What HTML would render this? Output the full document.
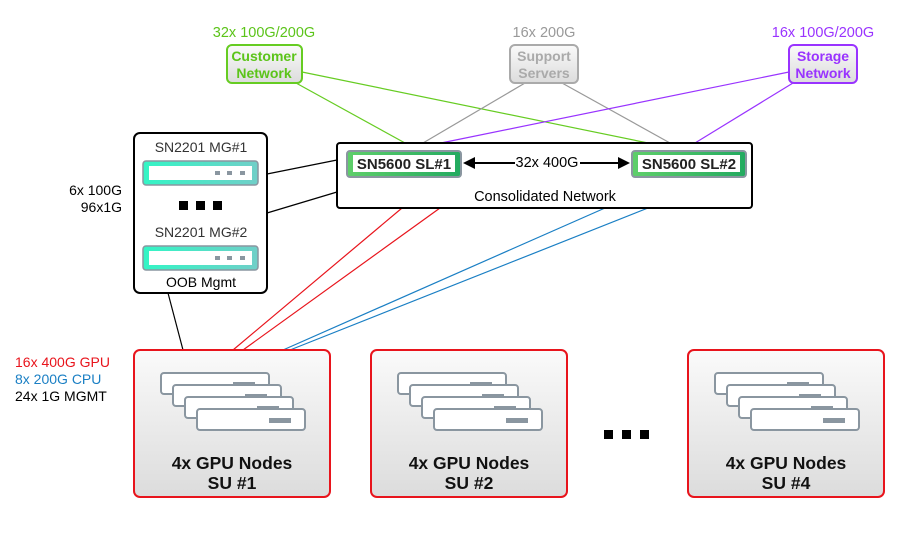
<!DOCTYPE html>
<html><head><meta charset="utf-8"><style>
body{margin:0;background:#fff;}
text{font-family:"Liberation Sans",sans-serif;}
</style></head><body>
<svg width="914" height="530" viewBox="0 0 914 530" xmlns="http://www.w3.org/2000/svg">
<defs>
<linearGradient id="g" x1="0" y1="0" x2="0" y2="1"><stop offset="0" stop-color="#fafafa"/><stop offset="1" stop-color="#dcdcdc"/></linearGradient>
<linearGradient id="sw" x1="0" y1="0" x2="1" y2="0"><stop offset="0" stop-color="#5fcf6a"/><stop offset="1" stop-color="#22aa60"/></linearGradient>
<linearGradient id="mg" x1="0" y1="0" x2="1" y2="0"><stop offset="0" stop-color="#33f5c5"/><stop offset="1" stop-color="#70cfc8"/></linearGradient>
<g id="srv"><rect x="0" y="0" width="108" height="21" rx="3" fill="#fff" stroke="#8a96a0" stroke-width="2"/><rect x="72" y="9" width="22" height="5" fill="#8a96a0"/></g>
<g id="stack"><use href="#srv" x="0" y="0"/><use href="#srv" x="12" y="12"/><use href="#srv" x="24" y="24"/><use href="#srv" x="36" y="36"/></g>
</defs>
<g stroke-width="1.2" fill="none">
<line x1="302" y1="72" x2="648" y2="143" stroke="#66cc22"/>
<line x1="296" y1="83" x2="405" y2="143" stroke="#66cc22"/>
<line x1="525" y1="83" x2="423" y2="143" stroke="#999"/>
<line x1="562" y1="83" x2="670" y2="143" stroke="#999"/>
<line x1="789" y1="72" x2="441" y2="143" stroke="#9933ff"/>
<line x1="793" y1="83" x2="695" y2="143" stroke="#9933ff"/>
<line x1="402" y1="208" x2="233" y2="350" stroke="#e8141c"/>
<line x1="440" y1="208" x2="243" y2="350" stroke="#e8141c"/>
<line x1="605" y1="208" x2="283" y2="350" stroke="#1a7fc4"/>
<line x1="648" y1="208" x2="290" y2="350" stroke="#1a7fc4"/>
<line x1="267" y1="174" x2="337" y2="160" stroke="#000"/>
<line x1="267" y1="213" x2="337" y2="192" stroke="#000"/>
<line x1="168" y1="293" x2="183" y2="350" stroke="#000"/>
</g>
<text x="264" y="37" font-size="14.5" fill="#5cc41a" text-anchor="middle">32x 100G/200G</text>
<rect x="227" y="45" width="75" height="38" rx="5" fill="url(#g)" stroke="#66cc22" stroke-width="2"/>
<text x="264" y="61" font-size="14" font-weight="bold" fill="#5cc41a" text-anchor="middle">Customer</text>
<text x="264" y="78" font-size="14" font-weight="bold" fill="#5cc41a" text-anchor="middle">Network</text>
<text x="544" y="37" font-size="14.5" fill="#999" text-anchor="middle">16x 200G</text>
<rect x="510" y="45" width="68" height="38" rx="5" fill="url(#g)" stroke="#aaa" stroke-width="2"/>
<text x="544" y="61" font-size="14" font-weight="bold" fill="#aaa" text-anchor="middle">Support</text>
<text x="544" y="78" font-size="14" font-weight="bold" fill="#aaa" text-anchor="middle">Servers</text>
<text x="823" y="37" font-size="14.5" fill="#9933ff" text-anchor="middle">16x 100G/200G</text>
<rect x="789" y="45" width="68" height="38" rx="5" fill="url(#g)" stroke="#9933ff" stroke-width="2"/>
<text x="823" y="61" font-size="14" font-weight="bold" fill="#9933ff" text-anchor="middle">Storage</text>
<text x="823" y="78" font-size="14" font-weight="bold" fill="#9933ff" text-anchor="middle">Network</text>
<rect x="337" y="143" width="415" height="65" rx="3" fill="#fff" stroke="#000" stroke-width="2"/>
<rect x="347" y="151" width="114" height="26" rx="3" fill="url(#sw)" stroke="#8a96a0" stroke-width="2"/>
<rect x="353" y="155" width="102" height="17" fill="#fff"/>
<text x="404" y="169" font-size="15" font-weight="bold" fill="#222" text-anchor="middle">SN5600 SL#1</text>
<rect x="632" y="151" width="114" height="26" rx="3" fill="url(#sw)" stroke="#8a96a0" stroke-width="2"/>
<rect x="638" y="155" width="102" height="17" fill="#fff"/>
<text x="689" y="169" font-size="15" font-weight="bold" fill="#222" text-anchor="middle">SN5600 SL#2</text>
<line x1="470" y1="163" x2="515" y2="163" stroke="#000" stroke-width="2"/>
<line x1="580" y1="163" x2="622" y2="163" stroke="#000" stroke-width="2"/>
<polygon points="463,163 475,157 475,169" fill="#000"/>
<polygon points="630,163 618,157 618,169" fill="#000"/>
<text x="547" y="167" font-size="14.5" fill="#000" text-anchor="middle">32x 400G</text>
<text x="545" y="201" font-size="14.5" fill="#000" text-anchor="middle">Consolidated Network</text>
<rect x="134" y="133" width="133" height="160" rx="6" fill="#fff" stroke="#000" stroke-width="2"/>
<text x="201" y="152" font-size="14" fill="#333" text-anchor="middle">SN2201 MG#1</text>
<rect x="143" y="161" width="115" height="24" rx="3" fill="url(#mg)" stroke="#8a96a0" stroke-width="1.5"/>
<rect x="149" y="166" width="103" height="14" fill="#fff"/>
<rect x="215" y="171" width="5" height="4" fill="#8a96a0"/><rect x="227" y="171" width="5" height="4" fill="#8a96a0"/><rect x="240" y="171" width="5" height="4" fill="#8a96a0"/>
<rect x="179" y="201" width="9" height="9" fill="#000"/><rect x="196" y="201" width="9" height="9" fill="#000"/><rect x="213" y="201" width="9" height="9" fill="#000"/>
<text x="201" y="237" font-size="14" fill="#333" text-anchor="middle">SN2201 MG#2</text>
<rect x="143" y="246" width="115" height="24" rx="3" fill="url(#mg)" stroke="#8a96a0" stroke-width="1.5"/>
<rect x="149" y="251" width="103" height="14" fill="#fff"/>
<rect x="215" y="256" width="5" height="4" fill="#8a96a0"/><rect x="227" y="256" width="5" height="4" fill="#8a96a0"/><rect x="240" y="256" width="5" height="4" fill="#8a96a0"/>
<text x="201" y="287" font-size="14" fill="#000" text-anchor="middle">OOB Mgmt</text>
<text x="122" y="195" font-size="14" fill="#000" text-anchor="end">6x 100G</text>
<text x="122" y="212" font-size="14" fill="#000" text-anchor="end">96x1G</text>
<text x="15" y="367" font-size="14" fill="#e8141c">16x 400G GPU</text>
<text x="15" y="384" font-size="14" fill="#1a7fc4">8x 200G CPU</text>
<text x="15" y="401" font-size="14" fill="#000">24x 1G MGMT</text>
<g>
<rect x="134" y="350" width="196" height="147" rx="6" fill="url(#g)" stroke="#e8141c" stroke-width="2"/>
<use href="#stack" x="161" y="373"/>
<text x="232" y="469" font-size="17.5" font-weight="bold" fill="#111" text-anchor="middle">4x GPU Nodes</text>
<text x="232" y="489" font-size="17.5" font-weight="bold" fill="#111" text-anchor="middle">SU #1</text>
</g>
<g>
<rect x="371" y="350" width="196" height="147" rx="6" fill="url(#g)" stroke="#e8141c" stroke-width="2"/>
<use href="#stack" x="398" y="373"/>
<text x="469" y="469" font-size="17.5" font-weight="bold" fill="#111" text-anchor="middle">4x GPU Nodes</text>
<text x="469" y="489" font-size="17.5" font-weight="bold" fill="#111" text-anchor="middle">SU #2</text>
</g>
<g>
<rect x="688" y="350" width="196" height="147" rx="6" fill="url(#g)" stroke="#e8141c" stroke-width="2"/>
<use href="#stack" x="715" y="373"/>
<text x="786" y="469" font-size="17.5" font-weight="bold" fill="#111" text-anchor="middle">4x GPU Nodes</text>
<text x="786" y="489" font-size="17.5" font-weight="bold" fill="#111" text-anchor="middle">SU #4</text>
</g>
<rect x="604" y="430" width="9" height="9" fill="#000"/><rect x="622" y="430" width="9" height="9" fill="#000"/><rect x="640" y="430" width="9" height="9" fill="#000"/>
</svg>
</body></html>
